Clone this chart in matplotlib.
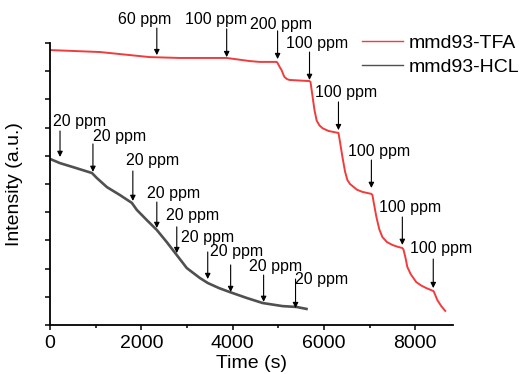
import numpy as np
import matplotlib
matplotlib.use('Agg')
import matplotlib.pyplot as plt
from matplotlib.ticker import MultipleLocator, NullFormatter

plt.rcParams['font.family'] = ['Liberation Sans', 'DejaVu Sans']

# mmd93-TFA 曲线 (时间 s, 强度)
tfa_t = [0, 1093, 2186, 2842, 3869, 4372, 4590, 4962,
         4980, 5030, 5071, 5110, 5137, 5190, 5246, 5683,
         5705, 5750, 5792, 5840, 5900, 5967, 6100, 6317,
         6340, 6404, 6460, 6513, 6570, 6623, 6720, 6842, 7038,
         7060, 7100, 7148, 7210, 7279, 7380, 7497, 7600, 7716,
         7740, 7790, 7825, 7900, 8022, 8130, 8240, 8330, 8400,
         8420, 8481, 8568, 8656]
tfa_v = [9.75, 9.68, 9.50, 9.47, 9.47, 9.36, 9.33, 9.33,
         9.30, 9.15, 9.04, 8.88, 8.79, 8.72, 8.69, 8.65,
         8.62, 8.10, 7.62, 7.25, 7.08, 6.98, 6.88, 6.81,
         6.60, 5.96, 5.45, 5.14, 5.00, 4.93, 4.80, 4.72, 4.65,
         4.61, 4.25, 3.83, 3.40, 3.12, 2.94, 2.84, 2.78, 2.73,
         2.68, 2.35, 2.06, 1.80, 1.52, 1.40, 1.31, 1.25, 1.20,
         1.13, 0.89, 0.67, 0.50]

# mmd93-HCL 曲线
hcl_t = [0, 219, 503, 918, 1027, 1246, 1530, 1792, 1902, 2120, 2339, 2557,
         2776, 2995, 3279, 3454, 3700, 3934, 4306, 4656, 5093, 5399, 5617]
hcl_v = [5.89, 5.74, 5.60, 5.39, 5.21, 4.89, 4.61, 4.33, 4.08, 3.72, 3.37, 2.94,
         2.48, 2.02, 1.67, 1.49, 1.31, 1.17, 0.96, 0.78, 0.67, 0.64, 0.57]

# 标注: 文字位置, 箭头位置 (起点/终点)
tfa_labels = ['60 ppm', '100 ppm', '200 ppm', '100 ppm', '100 ppm', '100 ppm', '100 ppm', '100 ppm']
tfa_text_t = [2077, 3628, 5049, 5858, 6492, 7213, 7891, 8568]
tfa_text_v = [10.85, 10.82, 10.64, 10.0, 8.23, 6.17, 4.18, 2.70]
tfa_arrow_t = [2339, 3869, 4984, 5683, 6317, 7038, 7716, 8393]
tfa_arrow_top = [10.53, 10.50, 10.43, 9.68, 7.91, 5.85, 3.83, 2.34]
tfa_arrow_tip = [9.57, 9.50, 9.43, 8.69, 6.91, 4.86, 2.84, 1.31]

hcl_labels = ['20 ppm'] * 9
hcl_text_t = [656, 1530, 2251, 2710, 3126, 3454, 4087, 4940, 5945]
hcl_text_v = [7.20, 6.67, 5.82, 4.68, 3.90, 3.12, 2.59, 2.06, 1.60]
hcl_arrow_t = [219, 940, 1814, 2339, 2776, 3454, 3956, 4678, 5377]
hcl_arrow_top = [6.88, 6.42, 5.46, 4.36, 3.48, 2.59, 2.13, 1.77, 1.63]
hcl_arrow_tip = [5.96, 5.43, 4.40, 3.44, 2.55, 1.63, 1.17, 0.82, 0.60]

fig = plt.figure(figsize=(5.21, 3.74), dpi=100)
ax = fig.add_axes([0.096, 0.131, 0.773, 0.754])

ax.plot(tfa_t, tfa_v, color='#f03c3c', lw=1.4, label='mmd93-TFA')
ax.plot(hcl_t, hcl_v, color='#505050', lw=1.9, label='mmd93-HCL')

def add_notes(labels, tx, tv, at, atop, atip):
    for lab, x, y, a, t0, t1 in zip(labels, tx, tv, at, atop, atip):
        ax.text(x, y, lab, ha='center', va='center', fontsize=11.5, clip_on=False)
        ax.annotate('', xy=(a, t1), xytext=(a, t0), annotation_clip=False,
                    arrowprops=dict(arrowstyle='-|>', color='black', lw=0.8,
                                    mutation_scale=8, shrinkA=0, shrinkB=0))

add_notes(tfa_labels, tfa_text_t, tfa_text_v, tfa_arrow_t, tfa_arrow_top, tfa_arrow_tip)
add_notes(hcl_labels, hcl_text_t, hcl_text_v, hcl_arrow_t, hcl_arrow_top, hcl_arrow_tip)

ax.set_xlim(0, 8820)
ax.set_ylim(0, 10)
ax.xaxis.set_major_locator(MultipleLocator(2000))
ax.xaxis.set_minor_locator(MultipleLocator(1000))
ax.yaxis.set_major_locator(MultipleLocator(1))
ax.yaxis.set_major_formatter(NullFormatter())
ax.tick_params(axis='both', which='major', direction='out', length=3.5, width=1.1,
               labelsize=14, pad=4)
ax.tick_params(axis='x', which='minor', direction='out', length=2, width=1.1)
for s in ['top', 'right']:
    ax.spines[s].set_visible(False)
for s in ['left', 'bottom']:
    ax.spines[s].set_linewidth(1.3)

ax.set_xlabel('Time (s)', fontsize=14, labelpad=2)
ax.set_ylabel('Intensity (a.u.)', fontsize=14, labelpad=12)

leg = ax.legend(loc='upper left', bbox_to_anchor=(0.695, 0.909),
                bbox_transform=fig.transFigure, frameon=False, fontsize=14,
                handlelength=2.1, handletextpad=0.3, labelspacing=0.35,
                borderpad=0, borderaxespad=0)
leg.get_lines()[0].set_linewidth(1.0)
leg.get_lines()[1].set_linewidth(1.0)

fig.savefig('out.png', dpi=100)
